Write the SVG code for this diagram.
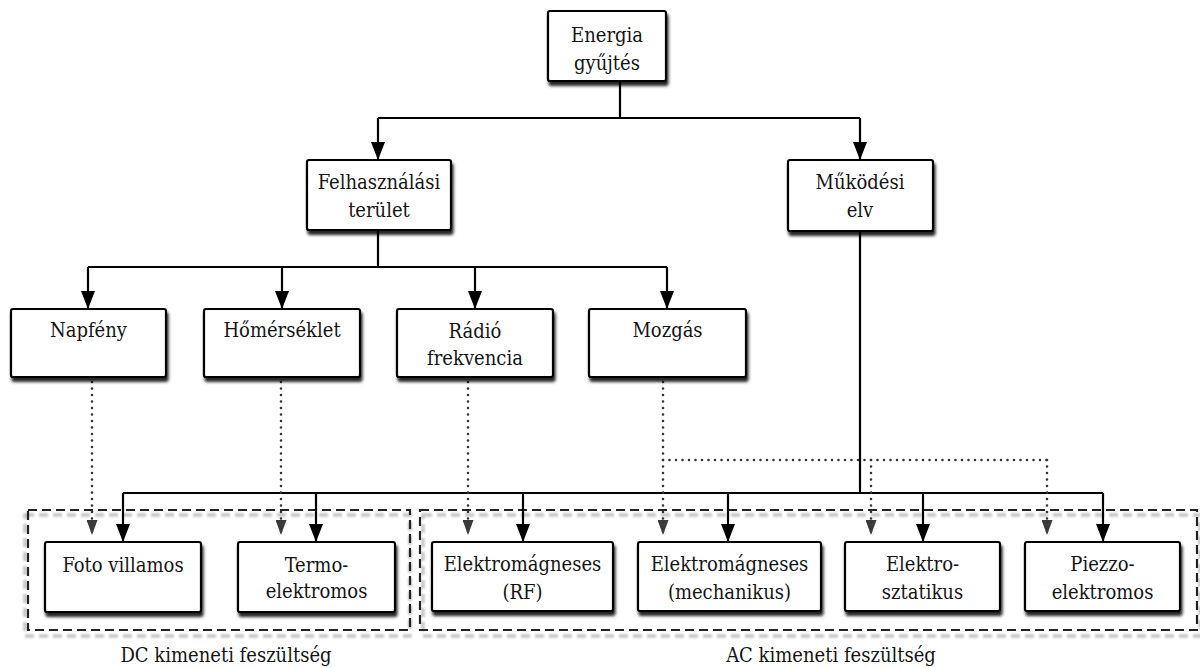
<svg xmlns="http://www.w3.org/2000/svg" width="1200" height="668" viewBox="0 0 1200 668">
<style>
.box{fill:#fff;stroke:#000;stroke-width:2.2;filter:url(#sh)}
.t{font-family:'DejaVu Serif Condensed','DejaVu Serif',serif;font-stretch:condensed;font-size:20px;fill:#141414;text-anchor:middle}
.solid{fill:none;stroke:#000;stroke-width:2.2}
.arr{fill:none;stroke:#000;stroke-width:2.2;marker-end:url(#ah)}
.dot{fill:none;stroke:#333;stroke-width:2.6;stroke-linecap:round;stroke-dasharray:0 6.5}
.dotarr{fill:none;stroke:#333;stroke-width:2.6;stroke-linecap:round;stroke-dasharray:0 6.5;marker-end:url(#dh)}
.frame{fill:none;stroke:#222;stroke-width:2.2;stroke-dasharray:9 5}
.frameSh{fill:none;stroke:#c4c4c4;stroke-width:3.5;stroke-dasharray:9 5;filter:url(#bl)}
</style>
<defs>
<filter id="sh" x="-10%" y="-10%" width="125%" height="135%">
<feDropShadow dx="1.5" dy="4" stdDeviation="1.6" flood-color="#000" flood-opacity="0.85"/>
</filter>
<filter id="bl" x="-5%" y="-10%" width="110%" height="120%">
<feGaussianBlur stdDeviation="0.8"/>
</filter>
<marker id="ah" viewBox="0 0 18 14" refX="18" refY="7" markerWidth="18" markerHeight="14" markerUnits="userSpaceOnUse" orient="auto">
<path d="M0,0 L18,7 L0,14 z" fill="#000"/>
</marker>
<marker id="dh" viewBox="0 0 15 11" refX="15" refY="5.5" markerWidth="15" markerHeight="11" markerUnits="userSpaceOnUse" orient="auto">
<path d="M0,0 L15,5.5 L0,11 z" fill="#3a3a3a"/>
</marker>
</defs>
<rect width="1200" height="668" fill="#fff"/>

<g id="frames">
<rect class="frameSh" x="25" y="515" width="385" height="121"/>
<rect class="frame" x="28" y="510" width="382" height="120"/>
<rect class="frameSh" x="423" y="515" width="777" height="121"/>
<rect class="frame" x="420" y="510" width="777" height="120"/>
</g>

<g id="connectors">
<path class="solid" d="M620,81 V118 M378,118 H860"/>
<path class="arr" d="M378,118 V160"/>
<path class="arr" d="M860,118 V160"/>
<path class="solid" d="M378,230 V267 M88,267 H667"/>
<path class="arr" d="M88,267 V309"/>
<path class="arr" d="M282,267 V309"/>
<path class="arr" d="M475,267 V309"/>
<path class="arr" d="M667,267 V309"/>
<path class="solid" d="M860,231 V493 M123,493 H1103"/>
<path class="arr" d="M123,493 V542"/>
<path class="arr" d="M316,493 V542"/>
<path class="arr" d="M523,493 V542"/>
<path class="arr" d="M728,493 V542"/>
<path class="arr" d="M923,493 V542"/>
<path class="arr" d="M1103,493 V542"/>
<path class="dotarr" d="M92,382 V535"/>
<path class="dotarr" d="M281,382 V535"/>
<path class="dotarr" d="M468,382 V535"/>
<path class="dotarr" d="M663,382 V535"/>
<path class="dot" d="M663,460 H1047"/>
<path class="dotarr" d="M871,460 V535"/>
<path class="dotarr" d="M1047,460 V535"/>
</g>

<g id="energia"><rect class="box" x="548" y="11" width="118" height="70" rx="2"/><text class="t" x="607" y="42">Energia</text><text class="t" x="607" y="70">gyűjtés</text></g>
<g id="felhasznalasi"><rect class="box" x="307" y="160" width="144" height="70" rx="2"/><text class="t" x="379" y="189">Felhasználási</text><text class="t" x="379" y="217">terület</text></g>
<g id="mukodesi"><rect class="box" x="788" y="160" width="145" height="71" rx="2"/><text class="t" x="860" y="189">Működési</text><text class="t" x="860" y="217">elv</text></g>
<g id="napfeny"><rect class="box" x="11" y="309" width="155" height="68" rx="2"/><text class="t" x="88.5" y="337">Napfény</text></g>
<g id="homerseklet"><rect class="box" x="204" y="309" width="156" height="68" rx="2"/><text class="t" x="282" y="337">Hőmérséklet</text></g>
<g id="radio"><rect class="box" x="397" y="309" width="156" height="68" rx="2"/><text class="t" x="475" y="338">Rádió</text><text class="t" x="475" y="365">frekvencia</text></g>
<g id="mozgas"><rect class="box" x="589" y="309" width="157" height="68" rx="2"/><text class="t" x="667.5" y="337">Mozgás</text></g>
<g id="foto"><rect class="box" x="45" y="542" width="156" height="70" rx="2"/><text class="t" x="123" y="572">Foto villamos</text></g>
<g id="termo"><rect class="box" x="238" y="542" width="157" height="70" rx="2"/><text class="t" x="316.5" y="572">Termo-</text><text class="t" x="316.5" y="598">elektromos</text></g>
<g id="em-rf"><rect class="box" x="432" y="542" width="181" height="69" rx="2"/><text class="t" x="522.5" y="571">Elektromágneses</text><text class="t" x="522.5" y="599">(RF)</text></g>
<g id="em-mech"><rect class="box" x="638" y="542" width="183" height="69" rx="2"/><text class="t" x="729.5" y="571">Elektromágneses</text><text class="t" x="729.5" y="599">(mechanikus)</text></g>
<g id="elektrosztatikus"><rect class="box" x="845" y="542" width="155" height="69" rx="2"/><text class="t" x="922.5" y="571">Elektro-</text><text class="t" x="922.5" y="599">sztatikus</text></g>
<g id="piezzo"><rect class="box" x="1025" y="542" width="155" height="69" rx="2"/><text class="t" x="1102.5" y="571">Piezzo-</text><text class="t" x="1102.5" y="599">elektromos</text></g>

<g id="labels">
<text class="t" x="226" y="662">DC kimeneti feszültség</text>
<text class="t" x="831" y="662">AC kimeneti feszültség</text>
</g>
</svg>
